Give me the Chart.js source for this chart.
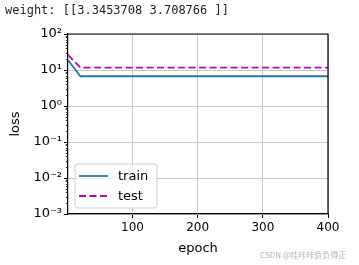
<!DOCTYPE html>
<html>
<head>
<meta charset="utf-8">
<script src="https://cdn.jsdelivr.net/npm/chart.js@4/dist/chart.umd.min.js"></script>
<style>
  html, body { margin: 0; padding: 0; background: #fff; }
  #wrap { position: relative; width: 359px; height: 265px; overflow: hidden; }
  #c { position: absolute; left: 0; top: 0; }
  #weight { position: absolute; left: 5px; top: 3px; font: 12px 'DejaVu Sans Mono', monospace; color: #222; white-space: pre; }
  #mark { position: absolute; left: 260px; top: 249px; font: 8px 'Noto Sans CJK SC', sans-serif; color: #b0b0b0; white-space: pre; }
</style>
</head>
<body>
<div id="wrap">
  <canvas id="c" width="359" height="265"></canvas>
  <div id="weight">weight: [[3.3453708 3.708766 ]]</div>
  <div id="mark">CSDN @哇咔咔负负得正</div>
</div>
<script>
// ---- data ----
const epochs = [1, 20, 40, 60, 80, 100, 120, 140, 160, 180, 200, 220, 240, 260, 280, 300, 320, 340, 360, 380, 400];
const trainLoss = [19.0, 6.7, 6.7, 6.7, 6.7, 6.7, 6.7, 6.7, 6.7, 6.7, 6.7, 6.7, 6.7, 6.7, 6.7, 6.7, 6.7, 6.7, 6.7, 6.7, 6.7];
const testLoss = [26.5, 11.7, 11.7, 11.7, 11.7, 11.7, 11.7, 11.7, 11.7, 11.7, 11.7, 11.7, 11.7, 11.7, 11.7, 11.7, 11.7, 11.7, 11.7, 11.7, 11.7];
const xTicks = [100, 200, 300, 400];
const yMajorTicks = [0.001, 0.01, 0.1, 1, 10, 100];
const yTickLabels = ['10\u207B\u00B3', '10\u207B\u00B2', '10\u207B\u00B9', '10\u2070', '10\u00B9', '10\u00B2'];
const yMinorSteps = [2, 3, 4, 5, 6, 7, 8, 9];
const seriesNames = ['train', 'test'];

function majorIndex(v) {
  for (let i = 0; i < yMajorTicks.length; i++) {
    if (Math.abs(v - yMajorTicks[i]) / yMajorTicks[i] < 1e-9) return i;
  }
  return -1;
}

const spinesAndLegend = {
  id: 'spinesAndLegend',
  afterDraw(chart) {
    const ctx = chart.ctx;
    const a = chart.chartArea;
    const ys = chart.scales.y;
    ctx.save();
    // minor ticks on y
    ctx.strokeStyle = '#000';
    ctx.lineWidth = 0.8;
    ys.ticks.forEach(t => {
      if (majorIndex(t.value) < 0) {
        const py = Math.round(ys.getPixelForValue(t.value)) + 0.5;
        ctx.beginPath();
        ctx.moveTo(a.left - 2.2, py);
        ctx.lineTo(a.left, py);
        ctx.stroke();
      }
    });
    // top and right spines
    ctx.strokeStyle = '#000';
    ctx.lineWidth = 1.2;
    ctx.beginPath();
    ctx.moveTo(a.left, a.top);
    ctx.lineTo(a.right, a.top);
    ctx.lineTo(a.right, a.bottom);
    ctx.stroke();
    // legend (lower left inside plot)
    const bx = a.left + 7, bw = 82, bh = 44, by = a.bottom - 6 - bh;
    const r = 3;
    ctx.beginPath();
    ctx.moveTo(bx + r, by);
    ctx.lineTo(bx + bw - r, by);
    ctx.quadraticCurveTo(bx + bw, by, bx + bw, by + r);
    ctx.lineTo(bx + bw, by + bh - r);
    ctx.quadraticCurveTo(bx + bw, by + bh, bx + bw - r, by + bh);
    ctx.lineTo(bx + r, by + bh);
    ctx.quadraticCurveTo(bx, by + bh, bx, by + bh - r);
    ctx.lineTo(bx, by + r);
    ctx.quadraticCurveTo(bx, by, bx + r, by);
    ctx.closePath();
    ctx.fillStyle = 'rgba(255,255,255,0.8)';
    ctx.fill();
    ctx.strokeStyle = '#d0d0d0';
    ctx.lineWidth = 1;
    ctx.stroke();
    chart.data.datasets.forEach((ds, i) => {
      const ly = by + 12 + i * 20;
      ctx.beginPath();
      ctx.strokeStyle = ds.borderColor;
      ctx.lineWidth = ds.borderWidth;
      ctx.setLineDash(ds.borderDash || []);
      ctx.moveTo(bx + 4, ly);
      ctx.lineTo(bx + 33, ly);
      ctx.stroke();
      ctx.setLineDash([]);
      ctx.fillStyle = '#000';
      ctx.font = '13px "DejaVu Sans"';
      ctx.textBaseline = 'middle';
      ctx.textAlign = 'left';
      ctx.fillText(ds.label, bx + 43, ly + 1);
    });
    ctx.restore();
  }
};

new Chart(document.getElementById('c'), {
  type: 'line',
  data: {
    datasets: [
      {
        label: seriesNames[0],
        data: epochs.map((e, i) => ({ x: e, y: trainLoss[i] })),
        borderColor: '#1f77b4',
        borderWidth: 1.8,
        pointRadius: 0,
        tension: 0,
        fill: false
      },
      {
        label: seriesNames[1],
        data: epochs.map((e, i) => ({ x: e, y: testLoss[i] })),
        borderColor: '#bf00bf',
        borderWidth: 1.8,
        borderDash: [7, 3.5],
        pointRadius: 0,
        tension: 0,
        fill: false
      }
    ]
  },
  options: {
    responsive: false,
    animation: false,
    devicePixelRatio: 1,
    layout: { padding: { top: 34, right: 31, left: 0, bottom: 0 } },
    plugins: { legend: { display: false }, tooltip: { enabled: false } },
    scales: {
      x: {
        type: 'linear',
        min: 1,
        max: 400,
        afterBuildTicks: (s) => { s.ticks = xTicks.map(v => ({ value: v })); },
        afterFit: (s) => { s.height = 51; },
        grid: { color: '#c8c8c8', lineWidth: 1, tickLength: 4, tickColor: '#000', drawTicks: true },
        border: { display: true, color: '#000', width: 1.2 },
        ticks: { autoSkip: false, maxRotation: 0, padding: 3, color: '#000', font: { family: 'DejaVu Sans', size: 12 } },
        title: { display: true, text: 'epoch', color: '#000', font: { family: 'DejaVu Sans', size: 13 }, padding: { top: 0, bottom: 9 } }
      },
      y: {
        type: 'logarithmic',
        min: 0.001,
        max: 100,
        afterBuildTicks: (s) => {
          const t = [];
          yMajorTicks.forEach((m, i) => {
            t.push({ value: m, major: true });
            if (i < yMajorTicks.length - 1) yMinorSteps.forEach(k => t.push({ value: m * k, major: false }));
          });
          s.ticks = t;
        },
        afterFit: (s) => { s.width = 68; },
        grid: {
          color: (c) => (c.tick && majorIndex(c.tick.value) >= 0) ? '#c8c8c8' : 'rgba(0,0,0,0)',
          tickColor: (c) => (c.tick && majorIndex(c.tick.value) >= 0) ? '#000' : 'rgba(0,0,0,0)',
          lineWidth: 1,
          tickLength: 4
        },
        border: { display: true, color: '#000', width: 1.2 },
        ticks: {
          autoSkip: false,
          padding: 2,
          color: '#000',
          font: { family: 'DejaVu Sans', size: 13 },
          callback: (v) => { const i = majorIndex(v); return i >= 0 ? yTickLabels[i] : ''; }
        },
        title: { display: true, text: 'loss', color: '#000', font: { family: 'DejaVu Sans', size: 13 }, padding: { top: 8, bottom: 0 } }
      }
    }
  },
  plugins: [spinesAndLegend]
});
</script>
</body>
</html>
